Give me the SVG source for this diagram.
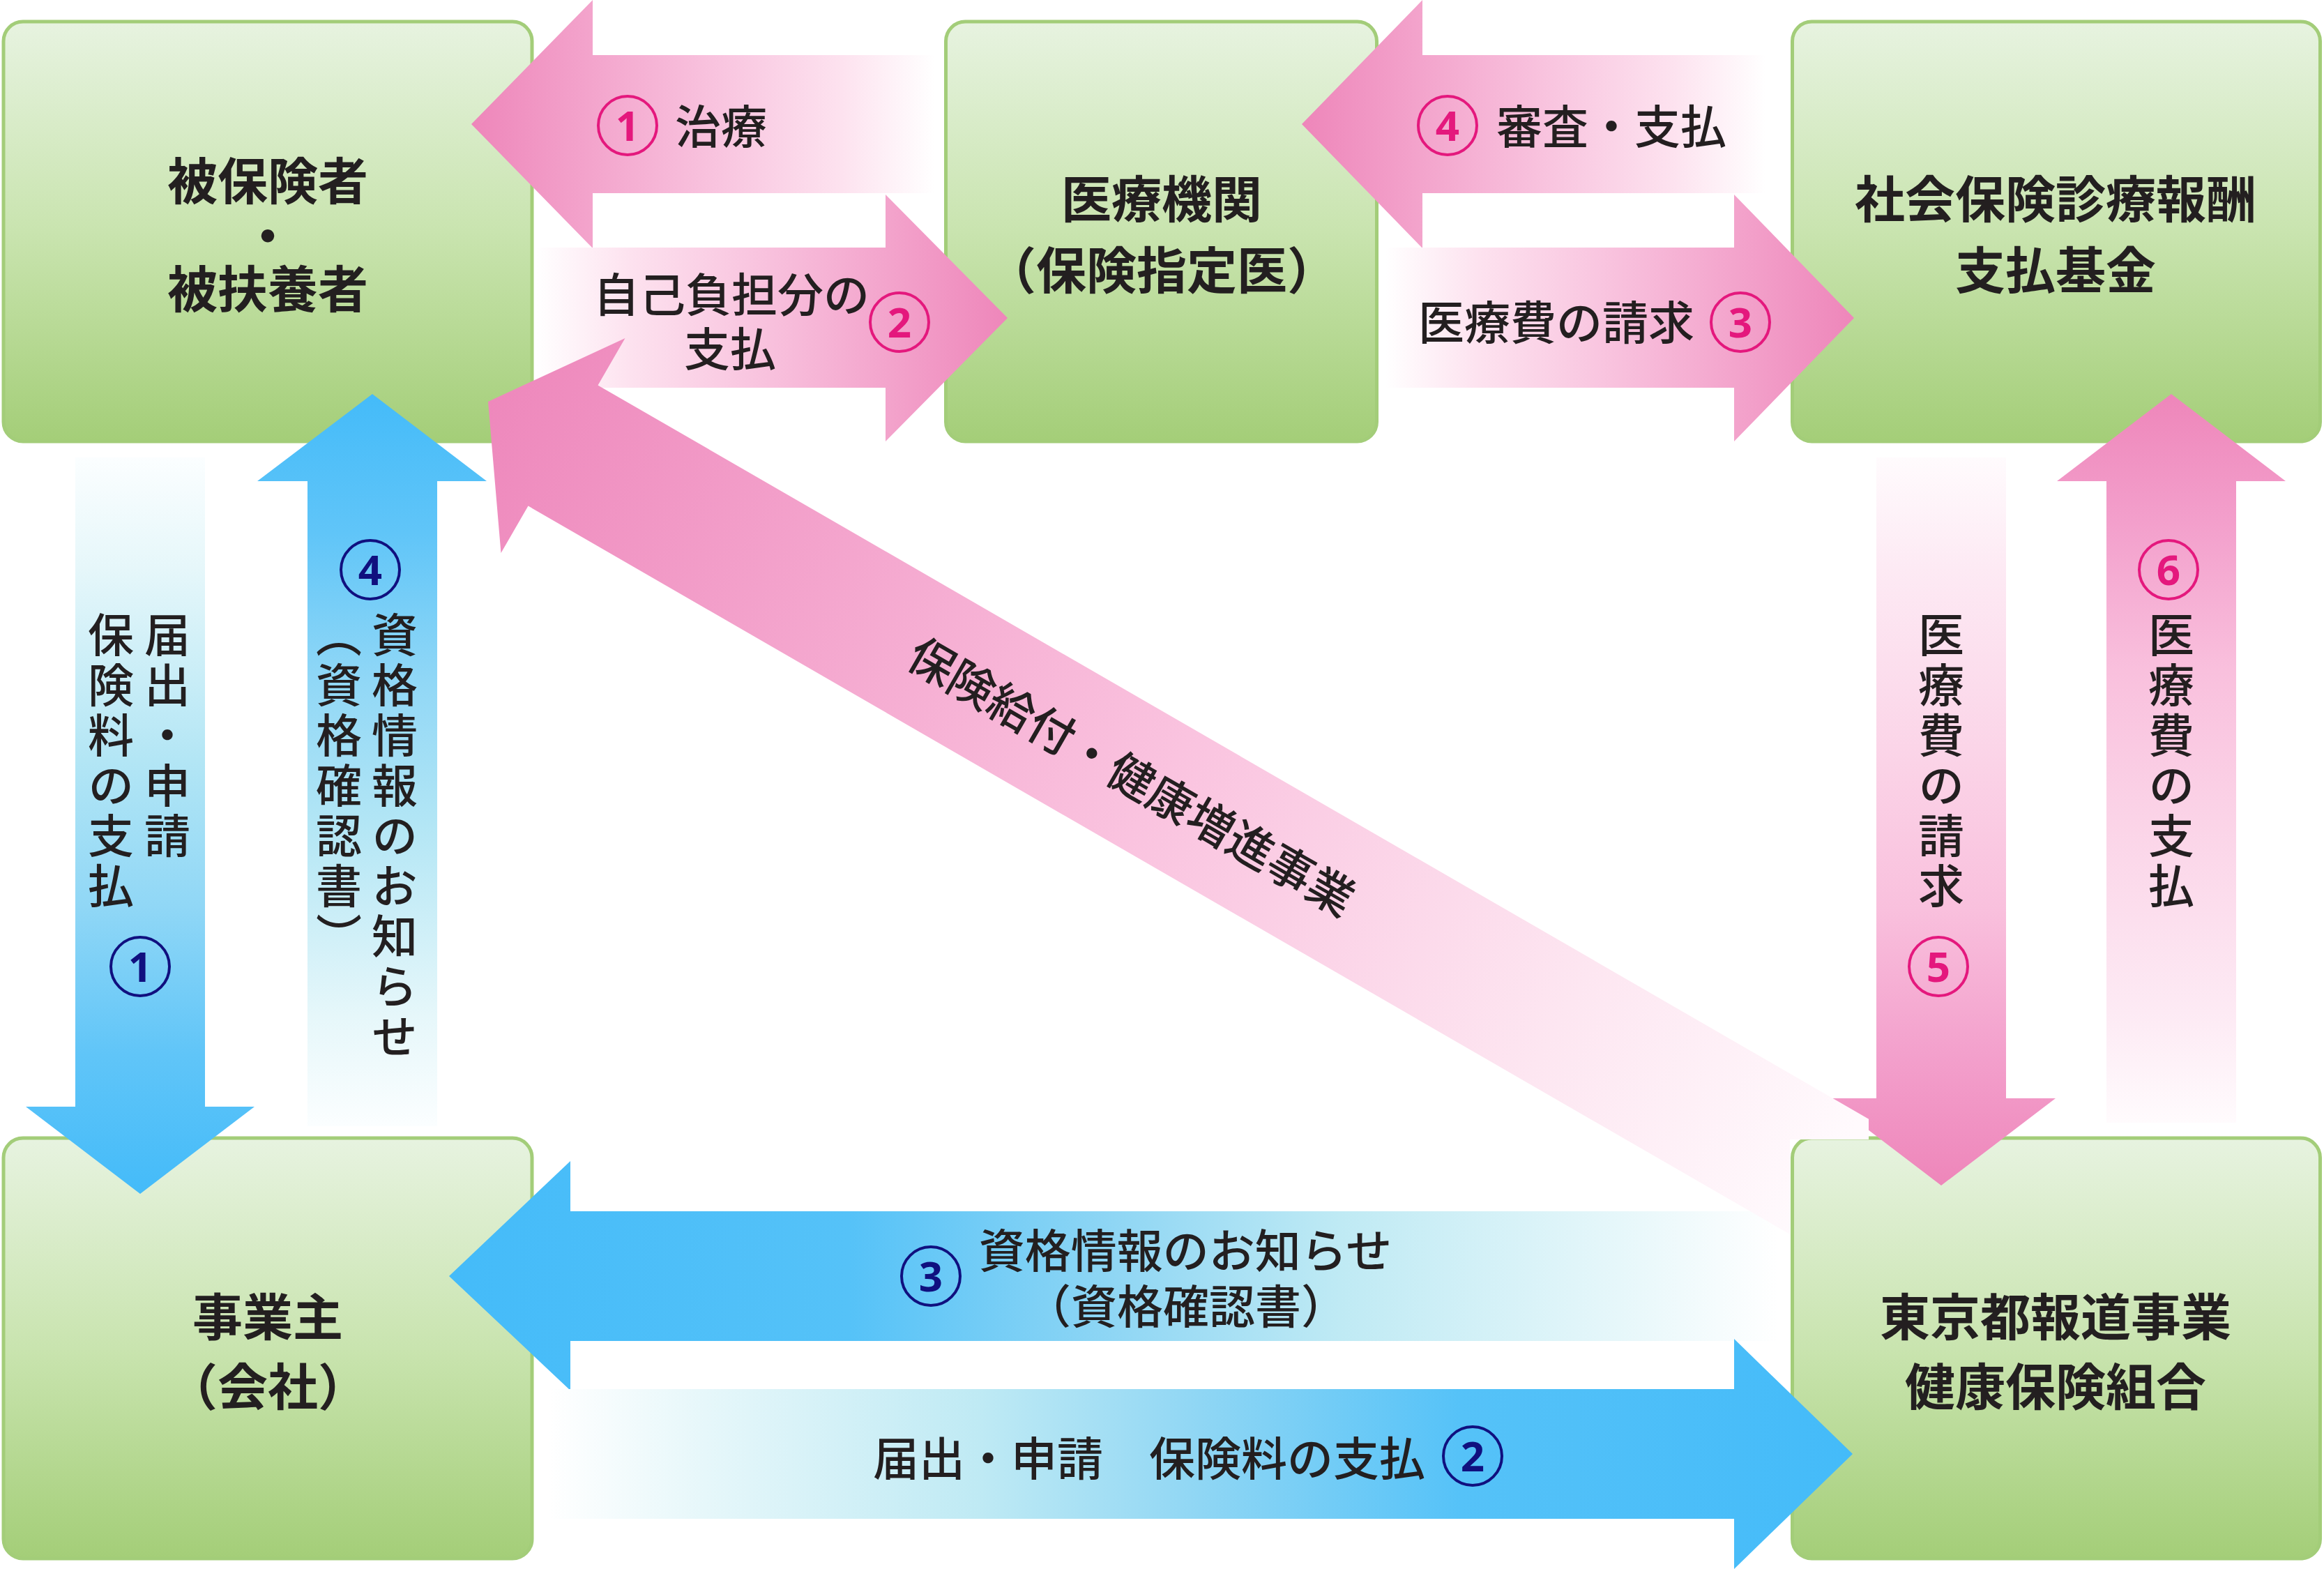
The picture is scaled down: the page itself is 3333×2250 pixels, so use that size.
<svg xmlns="http://www.w3.org/2000/svg" width="3333" height="2250" viewBox="0 0 3333 2250">
<style>
.node rect{fill:url(#gNode);stroke:#a3cd79;stroke-width:5}
.nt{font-family:"Noto Sans CJK JP","Noto Sans",sans-serif;font-weight:700;font-size:72px;fill:#231f20;text-anchor:middle;dominant-baseline:central}
.lt{font-family:"Noto Sans CJK JP","Noto Sans",sans-serif;font-weight:500;font-size:66px;fill:#231f20;dominant-baseline:central}
.vt{font-family:"Noto Sans CJK JP","Noto Sans",sans-serif;font-weight:500;font-size:66px;fill:#231f20;writing-mode:vertical-rl;letter-spacing:6px}
.cp{fill:none;stroke:#e4187d;stroke-width:4}
.cb{fill:none;stroke:#10107f;stroke-width:4}
.np{font-family:"Noto Sans","Liberation Sans",sans-serif;font-weight:700;font-size:60px;fill:#e4187d;text-anchor:middle}
.nb{font-family:"Noto Sans","Liberation Sans",sans-serif;font-weight:700;font-size:60px;fill:#10107f;text-anchor:middle}
</style>
<defs>
<linearGradient id="gNode" x1="0" y1="0" x2="0" y2="1">
<stop offset="0" stop-color="#e7f3e0"/><stop offset="0.5" stop-color="#c9e4af"/><stop offset="1" stop-color="#a4ce78"/>
</linearGradient>
<linearGradient id="pL" x1="0" y1="0" x2="1" y2="0">
<stop offset="0" stop-color="#ee86ba"/><stop offset="0.3" stop-color="#f4a9cf"/><stop offset="0.55" stop-color="#f9c6e0"/><stop offset="0.8" stop-color="#fde2ef"/><stop offset="1" stop-color="#ffffff"/>
</linearGradient>
<linearGradient id="pR" x1="1" y1="0" x2="0" y2="0" href="#pL"/>
<linearGradient id="pD" x1="0" y1="1" x2="0" y2="0">
<stop offset="0" stop-color="#ee86ba"/><stop offset="0.18" stop-color="#f3a0cc"/><stop offset="0.38" stop-color="#f9c0dd"/><stop offset="0.58" stop-color="#fbd3e7"/><stop offset="0.85" stop-color="#fdeaf4"/><stop offset="1" stop-color="#fffbfd"/>
</linearGradient>
<linearGradient id="pU" x1="0" y1="0" x2="0" y2="1" href="#pD"/>
<linearGradient id="bL" x1="0" y1="0" x2="1" y2="0">
<stop offset="0" stop-color="#44bbf9"/><stop offset="0.3" stop-color="#55c2f8"/><stop offset="0.5" stop-color="#8fd6f4"/><stop offset="0.67" stop-color="#bfeaf4"/><stop offset="0.88" stop-color="#e6f7fa"/><stop offset="1" stop-color="#ffffff"/>
</linearGradient>
<linearGradient id="bR" x1="1" y1="0" x2="0" y2="0" href="#bL"/>
<linearGradient id="bD" x1="0" y1="1" x2="0" y2="0">
<stop offset="0" stop-color="#44bbf9"/><stop offset="0.19" stop-color="#60c5f8"/><stop offset="0.39" stop-color="#90d7f6"/><stop offset="0.59" stop-color="#b3e6f5"/><stop offset="0.85" stop-color="#e6f7fa"/><stop offset="1" stop-color="#fbfeff"/>
</linearGradient>
<linearGradient id="bU" x1="0" y1="0" x2="0" y2="1" href="#bD"/>
<linearGradient id="pDiag" gradientUnits="userSpaceOnUse" x1="700" y1="576" x2="2620" y2="1690">
<stop offset="0" stop-color="#ee88bc"/><stop offset="0.5" stop-color="#fac3df"/><stop offset="0.8" stop-color="#fde6f1"/><stop offset="1" stop-color="#fffafd"/>
</linearGradient>
</defs>
<rect width="3333" height="2250" fill="#ffffff"/>

<g id="node-hihokensha" class="node">
<rect x="5" y="31" width="758" height="602" rx="28"/>
<text class="nt" x="384" y="254">被保険者</text>
<text class="nt" x="384" y="333">・</text>
<text class="nt" x="384" y="409">被扶養者</text>
</g>
<g id="node-iryokikan" class="node">
<rect x="1356.5" y="31" width="618" height="602" rx="28"/>
<text class="nt" x="1666" y="280">医療機関</text>
<text class="nt" x="1666" y="382">（保険指定医）</text>
</g>
<g id="node-shiharaikikin" class="node">
<rect x="2570.5" y="31" width="757" height="602" rx="28"/>
<text class="nt" x="2948" y="280">社会保険診療報酬</text>
<text class="nt" x="2948" y="382">支払基金</text>
</g>
<g id="node-jigyonushi" class="node">
<rect x="5" y="1632" width="758" height="603" rx="28"/>
<text class="nt" x="384" y="1883">事業主</text>
<text class="nt" x="384" y="1983">（会社）</text>
</g>
<g id="node-kumiai" class="node">
<rect x="2570.5" y="1632" width="757" height="603" rx="28"/>
<text class="nt" x="2948" y="1883">東京都報道事業</text>
<text class="nt" x="2948" y="1983">健康保険組合</text>
</g>

<g id="connectors">
<polygon fill="url(#pL)" points="676,178 850,0 850,79 1340,79 1340,277 850,277 850,356"/>
<polygon fill="url(#pR)" points="768,355 1270,355 1270,279 1445,456 1270,633 1270,556 768,556"/>
<polygon fill="url(#pL)" points="1867,178 2040,0 2040,79 2532,79 2532,277 2040,277 2040,356"/>
<polygon fill="url(#pR)" points="1987,355 2487,355 2487,279 2659,456 2487,633 2487,556 1987,556"/>
<polygon fill="url(#bL)" points="644,1830 818,1665 818,1737 2551,1737 2551,1923 818,1923 818,1994"/>
<polygon fill="url(#bR)" points="787,1992 2487,1992 2487,1920 2657,2085 2487,2250 2487,2178 787,2178"/>
<polygon fill="url(#bD)" points="108,656 294,656 294,1587 365,1587 201,1712 37,1587 108,1587"/>
<polygon fill="url(#bU)" points="534,565 698,690 627,690 627,1615 441,1615 441,690 369,690"/>
<polygon fill="url(#pD)" points="2691,656 2877,656 2877,1575 2948,1575 2784,1700 2620,1575 2691,1575"/>
<polygon fill="url(#pU)" points="3114,565 3278,690 3207,690 3207,1610 3021,1610 3021,690 2950,690"/>
<polygon fill="url(#pDiag)" points="700,576 896.5,485 857.5,552.4 2680,1604.7 2680,1634 2567,1634 2567,1770 757.5,725.6 718.5,793"/>

<circle class="cp" cx="900" cy="180" r="42"/><text class="np" x="900" y="202">1</text>
<text class="lt" x="968" y="177">治療</text>

<text class="lt" x="1049" y="418" text-anchor="middle">自己負担分の</text>
<text class="lt" x="1047" y="496" text-anchor="middle">支払</text>
<circle class="cp" cx="1290" cy="462" r="42"/><text class="np" x="1290" y="484">2</text>

<circle class="cp" cx="2076" cy="180" r="42"/><text class="np" x="2076" y="202">4</text>
<text class="lt" x="2146" y="177">審査・支払</text>

<text class="lt" x="2232" y="458" text-anchor="middle">医療費の請求</text>
<circle class="cp" cx="2496" cy="462" r="42"/><text class="np" x="2496" y="484">3</text>

<circle class="cb" cx="1335" cy="1830" r="42"/><text class="nb" x="1335" y="1852">3</text>
<text class="lt" x="1700" y="1789" text-anchor="middle">資格情報のお知らせ</text>
<text class="lt" x="1701" y="1869" text-anchor="middle">（資格確認書）</text>

<text class="lt" x="1648" y="2087" text-anchor="middle">届出・申請　保険料の支払</text>
<circle class="cb" cx="2112" cy="2088" r="42"/><text class="nb" x="2112" y="2110">2</text>

<text class="vt" x="240" y="877">届出・申請</text>
<text class="vt" x="159" y="877">保険料の支払</text>
<circle class="cb" cx="201" cy="1386" r="42"/><text class="nb" x="201" y="1408">1</text>

<circle class="cb" cx="531" cy="817" r="42"/><text class="nb" x="531" y="839">4</text>
<text class="vt" x="566" y="877">資格情報のお知らせ</text>
<text class="vt" x="486" y="877">（資格確認書）</text>

<text class="vt" x="2784" y="877">医療費の請求</text>
<circle class="cp" cx="2780" cy="1386" r="42"/><text class="np" x="2780" y="1408">5</text>

<circle class="cp" cx="3110" cy="817" r="42"/><text class="np" x="3110" y="839">6</text>
<text class="vt" x="3114" y="877">医療費の支払</text>

<text class="lt" transform="translate(1625,1110) rotate(30)" text-anchor="middle">保険給付・健康増進事業</text>
</g>
</svg>
